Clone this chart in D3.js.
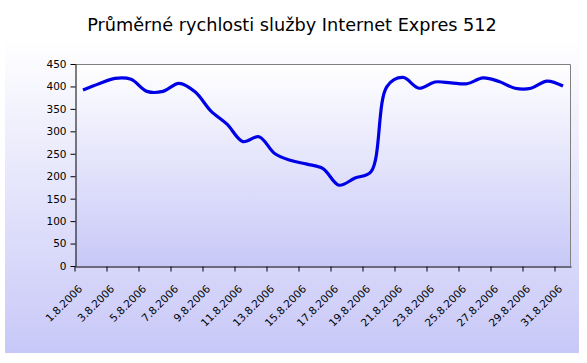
<!DOCTYPE html>
<html>
<head>
<meta charset="utf-8">
<script src="https://cdn.jsdelivr.net/npm/d3@7"></script>
<style>
	body { margin: 0; background: #fff; }
	svg { display: block; }
	text { font-family: "DejaVu Sans", Verdana, sans-serif; }
</style>
</head>
<body>
<div id="chart"></div>
<script>

// data
var title = "Průměrné rychlosti služby Internet Expres 512";
var days = d3.range(1, 32).map( d => d + ".8.2006" );
var speeds = [392, 406, 418, 416, 389, 389, 407, 388, 345, 316,
	277, 288, 250, 235, 227, 217, 180, 196, 210, 400,
	420, 396, 410, 408, 406, 419, 411, 396, 396, 412, 401];
var yticks = [0, 50, 100, 150, 200, 250, 300, 350, 400, 450];

var W = 587, H = 363;
var plot = { left: 75, right: 571, top: 64, bottom: 266 };

var svg = d3.select("#chart").append("svg")
	.attr("width", W)
	.attr("height", H);

var defs = svg.append("defs");

// lavender gradients (outer area + plot area)
function grad(id)	{
	var g = defs.append("linearGradient")
		.attr("id", id)
		.attr("x1", 0).attr("y1", 0)
		.attr("x2", 0).attr("y2", 1);
	g.append("stop").attr("offset", "0%").attr("stop-color", "#ffffff");
	g.append("stop").attr("offset", "100%").attr("stop-color", "#c8c8f8");
}
grad("outer");
grad("inner");

svg.append("rect")
	.attr("x", 5).attr("y", 39)
	.attr("width", 574).attr("height", 314)
	.attr("fill", "url(#outer)");

svg.append("rect")
	.attr("x", plot.left).attr("y", plot.top)
	.attr("width", plot.right - plot.left)
	.attr("height", plot.bottom - plot.top)
	.attr("fill", "url(#inner)");

// grey frame top + right
svg.append("path")
	.attr("d", `M${plot.left},${plot.top + 0.5}H${plot.right - 0.5}V${plot.bottom}`)
	.attr("fill", "none")
	.attr("stroke", "#808080");

// title
svg.append("text")
	.attr("x", 292)
	.attr("y", 31)
	.attr("text-anchor", "middle")
	.attr("font-size", "17.7px")
	.attr("fill", "#000")
	.text(title);

var x = d3.scaleBand()
	.domain(days)
	.range([plot.left, plot.right])
	.padding(0);
var bw = x.bandwidth();

var y = d3.scaleLinear()
	.domain([0, 450])
	.range([plot.bottom, plot.top]);

// Y axis
var yaxis = svg.append("g")
	.attr("transform", `translate(${plot.left + 0.5},0)`)
	.call(d3.axisLeft(y).tickValues(yticks).tickSize(5).tickPadding(4).tickSizeOuter(0));
yaxis.selectAll("text")
	.attr("font-size", "10.5px")
	.attr("font-family", "DejaVu Sans")
	.attr("fill", "#000");

// X axis: ticks between categories every 2nd day, labels on odd days
var labeled = days.filter( (d, i) => i % 2 === 0 );
var xaxis = svg.append("g")
	.attr("transform", `translate(0,${plot.bottom + 0.5})`)
	.call(d3.axisBottom(x).tickValues(labeled).tickSize(5).tickSizeOuter(0));
xaxis.selectAll(".tick line")
	.attr("x1", -bw / 2)
	.attr("x2", -bw / 2);
xaxis.selectAll(".tick text")
	.attr("font-size", "10.5px")
	.attr("font-family", "DejaVu Sans")
	.attr("fill", "#000")
	.attr("text-anchor", "end")
	.attr("y", 0)
	.attr("dy", 0)
	.attr("transform", "translate(0,23) rotate(-45)");

// line
var line = d3.line()
	.x( (d, i) => x(days[i]) + bw / 2 )
	.y( d => y(d) )
	.curve(d3.curveCatmullRom.alpha(0.5));

svg.append("path")
	.datum(speeds)
	.attr("d", line)
	.attr("fill", "none")
	.attr("stroke", "#0000e6")
	.attr("stroke-width", 3.2)
	.attr("stroke-linejoin", "round");

</script>
</body>
</html>
